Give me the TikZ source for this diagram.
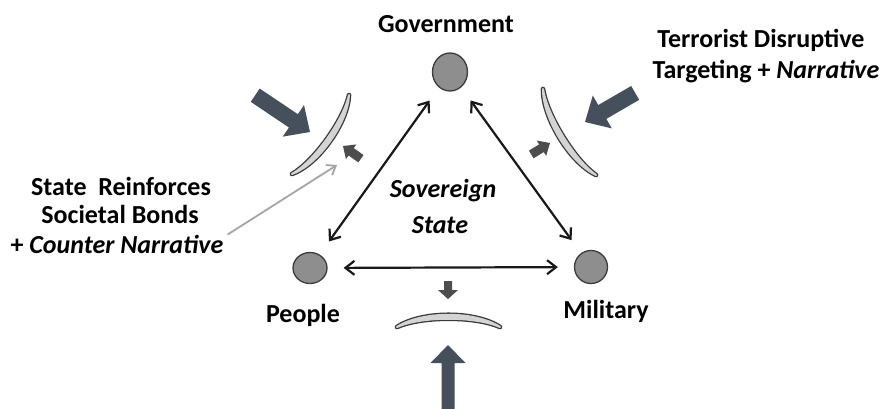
\documentclass[tikz,border=0pt]{standalone}
\usepackage{fontspec}
\setmainfont{Carlito}
\usetikzlibrary{arrows.meta,calc,shapes.geometric}
\definecolor{circfill}{RGB}{142,142,142}
\definecolor{circedge}{RGB}{60,60,60}
\definecolor{shieldfill}{RGB}{212,212,212}
\definecolor{shieldedge}{RGB}{58,58,58}
\definecolor{bigarrow}{RGB}{70,80,92}
\definecolor{smallarrow}{RGB}{77,77,77}
\definecolor{pointercol}{RGB}{165,165,165}
\definecolor{linkcol}{RGB}{25,25,25}
\newcommand\blockarrow[7]{\fill[#7, shift={#1}, rotate=#2] (0,0) -- (-#4,#5) -- (-#4,#6) -- (-#3,#6) -- (-#3,-#6) -- (-#4,-#6) -- (-#4,-#5) -- cycle;}
\newcommand\shieldshape[1]{%
  \filldraw[shieldedge, line width=4.6pt, line join=round] #1;
  \filldraw[shieldfill, line width=2pt, line join=round] #1;}
\begin{document}
\begin{tikzpicture}[x=1pt,y=-1pt,
  lbl/.style={font=\fontsize{26}{30}\selectfont\bfseries, inner sep=0pt, anchor=base},
  ilbl/.style={lbl, font=\fontsize{26}{30}\selectfont\bfseries\itshape},
  actor/.style={ellipse, draw=circedge, fill=circfill, line width=1.3pt, inner sep=0pt},
  link/.style={{Straight Barb[length=9pt,width=14pt]}-{Straight Barb[length=9pt,width=14pt]}, line width=2.2pt, draw=linkcol, shorten >=16pt, shorten <=16pt},
  pointer/.style={-{Straight Barb[length=8pt,width=12pt]}, line width=1.8pt, draw=pointercol}
]
\fill[white] (0,0) rectangle (883,408);
\useasboundingbox (0,0) rectangle (883,408);

% actors
\node[actor, minimum width=35pt, minimum height=38pt] (gov) at (450,72) {};
\node[actor, minimum width=34pt, minimum height=31pt] (peo) at (310,268) {};
\node[actor, minimum width=33pt, minimum height=33pt] (mil) at (591,267) {};

% labels
\node[lbl] (govt) at (446,32) {Government};
\node[lbl] (peot) at (303,322) {People};
\node[lbl] (milt) at (606,318) {Military};
\node[ilbl] (sov) at (443,197) {Sovereign};
\node[ilbl] (sta) at (440,233) {State};
\node[lbl] (sr) at (121,195) {State\ \ Reinforces};
\node[lbl] (sb) at (120,223) {Societal Bonds};
\node[lbl] (cn) at (117,253) {+ \itshape Counter Narrative};
\node[lbl] (td) at (761,47) {Terrorist Disruptive};
\node[lbl] (tn) at (766,78) {Targeting + \itshape Narrative};

% links
\draw[link] (gov) -- (peo);
\draw[link] (gov) -- (mil);
\draw[link] (peo) -- (mil);

% shields
\shieldshape{(349,95) .. controls (348,123) and (318.6,164.4) .. (292,174)
   .. controls (314.2,161.2) and (343.6,119.7) .. cycle}
\shieldshape{(543,89) .. controls (542.4,117.7) and (569.9,162.7) .. (596,175)
   .. controls (574.5,159.9) and (547,114.9) .. cycle}
\shieldshape{(397,327) .. controls (421.75,310.7) and (475.25,310.7) .. (500,327)
   .. controls (475.25,316) and (421.75,316) .. cycle}

% big attack arrows
\blockarrow{(310,132)}{-33.9}{66}{20}{19}{8}{bigarrow}
\blockarrow{(585,122)}{210.1}{58}{20}{19}{8}{bigarrow}
\blockarrow{(448,345)}{90}{70}{18}{17.5}{6.5}{bigarrow}

% small reinforcing arrows
\blockarrow{(343,146)}{144.6}{22}{10}{9}{4.5}{smallarrow}
\blockarrow{(550,143)}{31.4}{22}{10}{9}{4.5}{smallarrow}
\blockarrow{(448,299)}{-90}{18}{9}{10}{4}{smallarrow}

% pointer from counter narrative
\coordinate (cntip) at (337,165);
\draw[pointer] ([xshift=4pt]cn.north east) -- (cntip);
\end{tikzpicture}
\end{document}
